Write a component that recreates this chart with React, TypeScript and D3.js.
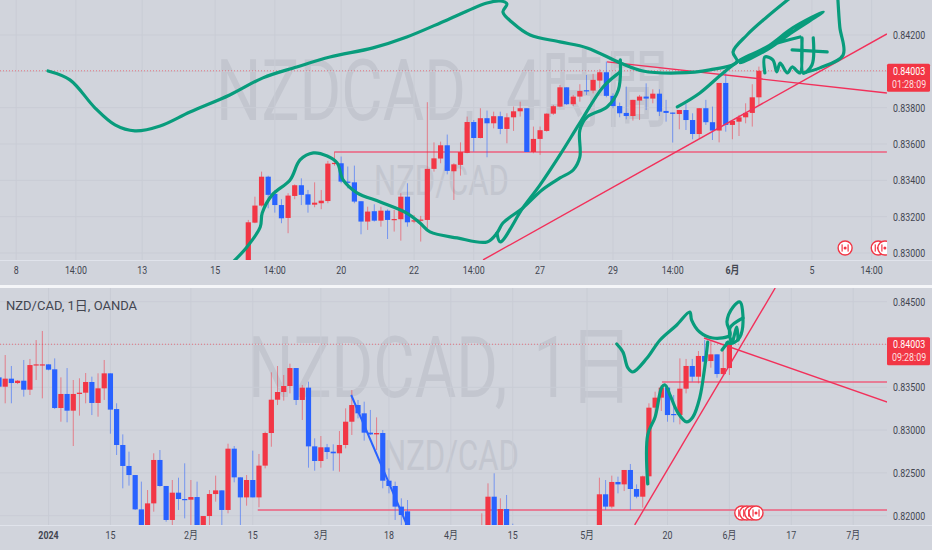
import React from 'react';
import * as d3 from 'd3';

// all prices are in 1e-5 units (0.84003 -> 84003)
const LAST_PRICE = 84003;

// 4h pane
const h4Open = [82925,83167,83261,83420,83325,83264,83193,83314,83373,83323,83266,83274,83286,83492,83494,83393,83389,83285,83173,83230,83178,83233,83184,83186,83310,83173,83178,83182,83463,83520,83593,83450,83485,83551,83721,83633,83742,83714,83753,83683,83747,83780,83797,83556,83628,83672,83767,83806,83912,83819,83861,83896,83894,83949,83995,83865,83809,83771,83754,83839,83861,83850,83877,83782,83773,83765,83787,83732,83655,83797,83720,83674,83936,83705,83723,83747,83771,83857];
const h4High = [83182,83310,83448,83425,83347,83296,83329,83378,83411,83347,83389,83347,83507,83558,83531,83476,83481,83285,83255,83268,83255,83240,83237,83329,83384,83209,83204,83830,83609,83613,83652,83494,83609,83751,83732,83797,83784,83778,83778,83769,83806,83833,83797,83696,83696,83769,83815,83925,83912,83870,83929,83980,83986,84011,84054,83879,83828,83916,83843,83870,83934,83901,83901,83843,83773,83787,83820,83769,83797,83843,83806,83936,83998,83727,83760,83824,83929,84026];
const h4Low = [82907,83164,83255,83246,83222,83164,83109,83296,83264,83222,83252,83241,83274,83481,83384,83356,83274,83103,83127,83173,83145,83077,83118,83068,83145,83164,83063,83136,83448,83494,83433,83292,83426,83549,83558,83631,83527,83686,83654,83604,83672,83751,83556,83549,83540,83668,83760,83802,83815,83809,83833,83870,83879,83907,83857,83797,83747,83736,83729,83732,83787,83824,83754,83723,83608,83681,83677,83626,83631,83705,83622,83609,83668,83626,83644,83714,83696,83815];
const h4Close = [83169,83261,83420,83320,83264,83191,83316,83373,83320,83266,83277,83288,83492,83496,83393,83387,83283,83173,83228,83178,83233,83182,83187,83310,83169,83180,83184,83463,83521,83593,83452,83488,83556,83721,83633,83742,83714,83753,83683,83747,83780,83797,83556,83628,83676,83767,83808,83912,83819,83861,83892,83890,83953,83995,83865,83809,83769,83754,83843,83861,83850,83877,83778,83771,83769,83787,83732,83655,83797,83720,83674,83936,83705,83727,83747,83771,83857,84003];
const h4PriceTicks = [84200, 84000, 83800, 83600, 83400, 83200, 83000];
const h4TimeSlots = [-35, -26, -16, -5, 4, 14, 25, 34, 44, 55, 64, 73, 85, 94];
const h4TimeLabels = ['8', '14:00', '13', '15', '14:00', '20', '22', '14:00', '27', '29', '14:00', '6月', '5', '14:00'];
const h4Events = [90, 95, 96];

// daily pane, slots 67-77 and 84-96 sit below the visible range
const daySlots = [...d3.range(0, 67), ...d3.range(78, 84), ...d3.range(97, 119)];
const dayOpen = [83616,83507,83601,83550,83577,83472,83760,83760,83768,83710,83258,83422,83227,83422,83437,83562,83317,83488,83663,83246,82826,82581,82475,82074,81852,82144,82651,82347,81950,82269,82195,82187,82218,81833,81996,82253,82296,82067,82783,82448,82214,82417,82214,82585,82966,83355,83445,83515,83725,83352,83496,82810,82639,82799,82748,82729,82826,83098,83293,83196,82970,82950,82966,82409,82347,82106,82051,81600,81852,82222,81852,82078,81800,81800,82250,82106,82394,82366,82534,82312,82222,82460,83262,83379,83496,83188,83176,83484,83749,83624,83866,83807,83885,83655,83725];
const dayHigh = [83624,83877,83749,83585,83819,83831,84052,84158,83768,83838,83616,83725,83585,83605,83667,83624,83663,83819,83663,83313,82950,82748,82475,82398,82300,82729,82767,82347,82417,82444,82612,82417,82398,81996,82300,82468,82296,82841,82814,82448,82475,82760,82721,82982,83675,83749,83644,83776,83725,83527,83566,82904,82931,82838,82834,82989,83254,83468,83352,83332,83235,83149,83001,82553,82398,82203,82183,82028,82378,82495,82203,82242,81907,82444,82417,82468,82456,82534,82604,82366,82468,83313,83449,83527,83519,83410,83838,83831,83831,83924,84052,84041,83885,83947,84033];
const dayLow = [83488,83313,83313,83538,83391,83410,83585,83371,83698,83246,83098,83091,82814,83169,83313,83176,83157,83352,82958,82709,82320,82351,82067,81794,81813,82047,82339,81930,81891,82067,81969,81891,81813,81813,81891,82164,81891,82028,82390,81872,82117,82214,82098,82553,82806,83293,83344,83429,83293,83118,82561,82526,82561,82662,82526,82514,82787,82943,83137,82877,82943,82767,82320,82261,81950,81852,81813,81500,81800,81800,81800,81800,81600,81700,82067,82086,82261,82288,82067,82203,82094,82359,83118,83223,83098,83091,83067,83429,83566,83546,83792,83729,83612,83644,83644];
const dayClose = [83507,83601,83550,83577,83472,83760,83768,83768,83706,83258,83422,83227,83422,83437,83562,83317,83488,83663,83239,82826,82581,82475,82074,81813,82144,82651,82347,81950,82269,82195,82187,82218,81852,81996,82253,82296,82067,82783,82448,82214,82417,82214,82585,82966,83355,83445,83515,83725,83352,83496,82810,82639,82799,82744,82729,82826,83098,83293,83196,82970,82950,82966,82409,82347,82106,82008,81852,81800,82222,81852,82078,81852,81700,82250,82106,82394,82366,82534,82312,82222,82460,83262,83379,83496,83176,83176,83484,83749,83624,83866,83799,83885,83655,83725,84003];
const dayPriceTicks = [84500, 84000, 83500, 83000, 82500, 82000];
const dayTimeSlots = [8, 18, 31, 41, 52, 63, 73, 83, 95, 108, 118, 128, 138];
const dayTimeLabels = ['2024', '15', '2月', '15', '3月', '18', '4月', '15', '5月', '20', '6月', '17', '7月'];
const dayEvents = [120, 120.8, 121.6, 122.3];

// drawings on the charts, anchored as [slot, price]
type Pt = [number, number];
const h4Sweep: Pt[] = [[-30.2,84002],[-26.9,83953],[-23.1,83798],[-20.1,83705],[-17.1,83672],[-13.3,83699],[-8.8,83776],[-2.8,83870],[2.2,83964],[7.3,84024],[12.3,84079],[18.8,84129],[23.9,84189],[30,84283],[36,84376],[38,84387],[39,84371],[38.4,84327],[39.9,84266],[42.5,84200],[47,84162],[51.1,84129],[56.1,84046],[59.5,84002],[64.7,83991],[69.6,84008],[73.7,84052],[73.1,84107],[75.2,84200],[78.2,84299],[81.7,84404]];
const h4Lower: Pt[] = [[-2.3,82951],[-0.2,83033],[1.8,83143],[2.1,83220],[3.6,83320],[6.3,83402],[7.8,83512],[9.8,83551],[11.9,83534],[13.4,83496],[14.3,83402],[16.4,83331],[19.9,83281],[23.9,83220],[25.9,83165],[27.4,83116],[31.5,83083],[36,83061],[37.5,83110],[38.4,83165],[41.4,83248],[44.3,83347],[47,83413],[49,83457],[50,83529],[50,83677],[51.1,83749],[54.1,83804],[55.8,83897],[56.1,84063]];
const h4Rise: Pt[] = [[37.5,83110],[38,83061],[41.4,83248],[44,83375],[47,83540],[50,83716],[53.5,83914],[56.1,83997]];
const h4Arrow: Pt[] = [[64.7,83804],[68.1,83881],[71.6,83991],[74.2,84063],[78.2,84134],[82.1,84239],[86.7,84327],[82.1,84217],[78.2,84118],[74.2,84046],[78.2,84134],[83.2,84189]];
const h4Scribble: Pt[] = [[77.9,83991],[77.9,84079],[79.1,84063],[79.7,83997],[80.2,84046],[81.3,83991],[82,84024],[83.2,83991],[83.5,84184],[83.7,83991],[85,84035],[85.2,84184]];
const h4Hook: Pt[] = [[83.7,83991],[86.2,84019],[89.7,84090],[89.2,84244],[88.9,84404]];
const h4Cross: Pt[] = [[82,84118],[87.3,84107]];
const h4Green = [h4Sweep, h4Lower, h4Rise, h4Arrow, h4Scribble, h4Hook, h4Cross];

const dayCurve: Pt[] = [[99.8,84006],[100.8,83912],[101.6,83726],[102.4,83679],[104.7,83842],[106.8,84053],[109.5,84228],[111.6,84380],[111.9,84286],[113.2,84146],[115.3,84076],[118.1,84111],[117.6,84263],[118.6,84438],[119.7,84496],[120.2,84263],[119.7,84088],[118.6,84018],[117.6,84018]];
const dayLoop: Pt[] = [[120.2,84310],[118.1,84193],[118.4,84018],[119.2,84204],[119.4,84053]];
const dayDip: Pt[] = [[104.8,82371],[104.8,82943],[106,83153],[107.1,83504],[107.6,83527],[108.4,83410],[109.7,83200],[111.1,83095],[112.1,83153],[113.2,83375],[114,83726],[114.5,84029]];
const dayTick: Pt[] = [[116.8,83936],[117.8,84029]];
const dayGreen = [dayCurve, dayLoop, dayDip, dayTick];
const dayBlueLine: Pt[] = [[56.9,83410],[65.9,81892]];

const h4Trend: Pt[][] = [[[35.4,82962],[96.3,84206]], [[54.1,84052],[96.3,83881]]];
const h4Levels: Pt[][] = [[[13,83556],[96.3,83556]]];
const dayTrend: Pt[][] = [[[102.7,81892],[125.4,84660]], [[113.9,84076],[143.5,83328]]];
const dayLevels: Pt[][] = [[[107.1,83562],[143.5,83562]], [[41.8,82067],[143.5,82067]]];

const W = 932;
const H = 550;
const PLOT_R = 887;
const UP = '#f23645';
const DOWN = '#2962ff';
const GREEN = '#089c7c';
const TREND = '#f2305a';
const LEVEL = '#ec5f7e';
const BG = '#d1d4dc';
const GRID = '#c9ccd5';
const TEXT = '#434651';
const WM = '#c3c6cf';
const FONT = 'Roboto, "Noto Sans CJK JP", sans-serif';
// the source screenshot is squeezed sideways, so its text is narrow
const SQUEEZE = 0.77;

const fmt = (v: number) => (v / 1e5).toFixed(5);

const squeeze = (x: number, y: number, s = SQUEEZE) => `translate(${x},${y}) scale(${s},1)`;

interface PaneProps {
  id: string;
  top: number;
  bottom: number;
  x: d3.ScaleLinear<number, number>;
  y: d3.ScaleLinear<number, number>;
  slots: number[];
  open: number[];
  high: number[];
  low: number[];
  close: number[];
  priceTicks: number[];
  timeSlots: number[];
  timeLabels: string[];
  boldLabel: string;
  events: number[];
  eventY: number;
  trend: Pt[][];
  levels: Pt[][];
  green: Pt[][];
  title: string;
  titleX: number;
  titleY: number;
  titleGap: number;
  subX: number;
  subY: number;
  countdown: string;
  children?: React.ReactNode;
}

const Pane: React.FC<PaneProps> = (p) => {
  const { x, y } = p;
  const straight = d3.line<Pt>().x((d) => x(d[0])).y((d) => y(d[1]));
  const freehand = d3.line<Pt>().x((d) => x(d[0])).y((d) => y(d[1])).curve(d3.curveCatmullRom.alpha(0.5));
  const lastY = y(LAST_PRICE);

  return (
    <g>
      <clipPath id={p.id}>
        <rect x={0} y={p.top} width={PLOT_R} height={p.bottom - p.top} />
      </clipPath>

      <text transform={squeeze(p.titleX, p.titleY, 0.74)} fontSize={86} wordSpacing={p.titleGap} fill={WM} fontFamily={FONT}>{p.title}</text>
      <text transform={squeeze(p.subX, p.subY, 0.74)} fontSize={42} fill={WM} fontFamily={FONT}>NZD/CAD</text>

      {p.priceTicks.map((t) => (
        <line key={t} x1={0} x2={PLOT_R} y1={y(t)} y2={y(t)} stroke={GRID} strokeWidth={1} />
      ))}
      {p.timeSlots.map((s) => (
        <line key={s} x1={x(s)} x2={x(s)} y1={p.top} y2={p.bottom} stroke={GRID} strokeWidth={1} />
      ))}

      <g clipPath={`url(#${p.id})`}>
        <line x1={0} x2={PLOT_R} y1={lastY} y2={lastY} stroke={UP} strokeOpacity={0.6} strokeDasharray="1 2" />
        {p.levels.map((d, i) => (
          <path key={i} d={straight(d) ?? ''} stroke={LEVEL} strokeWidth={1.6} fill="none" />
        ))}
        {p.slots.map((s, i) => {
          const up = p.close[i] >= p.open[i];
          const c = up ? UP : DOWN;
          const bodyTop = y(Math.max(p.open[i], p.close[i]));
          const bodyH = Math.max(1.2, Math.abs(y(p.open[i]) - y(p.close[i])));
          return (
            <g key={s}>
              <line x1={x(s)} x2={x(s)} y1={y(p.high[i])} y2={y(p.low[i])} stroke={c} strokeOpacity={0.55} strokeWidth={1} />
              <rect x={x(s) - 2.6} y={bodyTop} width={5.2} height={bodyH} fill={c} />
            </g>
          );
        })}
        {p.trend.map((d, i) => (
          <path key={i} d={straight(d) ?? ''} stroke={TREND} strokeWidth={1.4} fill="none" />
        ))}
        {p.events.map((s, i) => (
          <g key={i} transform={`translate(${x(s)},${p.eventY})`}>
            <circle r={7} fill="#fff" stroke={UP} strokeWidth={1.4} />
            <rect x={-3.6} y={-3.6} width={1.2} height={7.2} fill={UP} />
            <rect x={2.4} y={-3.6} width={1.2} height={7.2} fill={UP} />
            <circle r={1.5} fill={UP} />
          </g>
        ))}
        {p.children}
        {p.green.map((d, i) => (
          <path key={i} d={freehand(d) ?? ''} stroke={GREEN} strokeWidth={3.2} fill="none" strokeLinecap="round" strokeLinejoin="round" />
        ))}
      </g>

      {/* the tick next to the last price is hidden by its tag */}
      {p.priceTicks.filter((t) => Math.abs(y(t) - lastY) > 14).map((t) => (
        <text key={t} transform={squeeze(893, y(t) + 4)} fontSize={11.5} fill={TEXT} fontFamily={FONT}>{fmt(t)}</text>
      ))}
      {p.timeSlots.map((s, i) => (
        <text
          key={s}
          transform={squeeze(x(s), p.bottom + 14)}
          fontSize={11.5}
          textAnchor="middle"
          fill={TEXT}
          fontWeight={p.timeLabels[i] === p.boldLabel ? 700 : 400}
          fontFamily={FONT}
        >
          {p.timeLabels[i]}
        </text>
      ))}

      <rect x={PLOT_R} y={lastY - 7} width={43} height={28} rx={1.5} fill={UP} />
      <text transform={squeeze(893, lastY + 4)} fontSize={11.5} fill="#fff" fontFamily={FONT}>{fmt(LAST_PRICE)}</text>
      <text transform={squeeze(892, lastY + 17)} fontSize={11.5} fill="#fff" fillOpacity={0.85} fontFamily={FONT}>{p.countdown}</text>
    </g>
  );
};

const App: React.FC = () => {
  const h4X = d3.scaleLinear().domain([0, 77]).range([248.3, 758.9]);
  const h4Y = d3.scaleLinear().domain([84200, 83000]).range([35, 253]);
  const dayX = d3.scaleLinear().domain([0, 118]).range([-1, 729.4]);
  const dayY = d3.scaleLinear().domain([84500, 82000]).range([301.7, 515.7]);
  const blueLine = d3.line<Pt>().x((d) => dayX(d[0])).y((d) => dayY(d[1]));

  return (
    <div style={{ position: 'fixed', left: 0, top: 0, width: W, height: H }}>
      <svg width={W} height={H} style={{ display: 'block' }}>
        <rect width={W} height={H} fill={BG} />

        <Pane
          id="h4-clip" top={0} bottom={260} x={h4X} y={h4Y}
          slots={d3.range(h4Open.length)} open={h4Open} high={h4High} low={h4Low} close={h4Close}
          priceTicks={h4PriceTicks} timeSlots={h4TimeSlots} timeLabels={h4TimeLabels} boldLabel="6月"
          events={h4Events} eventY={248} trend={h4Trend} levels={h4Levels} green={h4Green}
          title="NZDCAD, 4時間" titleX={216} titleY={120} titleGap={20}
          subX={374} subY={195} countdown="01:28:09"
        />
        <line x1={0} x2={W} y1={260.5} y2={260.5} stroke="#e0e3eb" />
        <rect x={0} y={285} width={W} height={3} fill="#f4f5f8" />

        <Pane
          id="day-clip" top={288} bottom={525} x={dayX} y={dayY}
          slots={daySlots} open={dayOpen} high={dayHigh} low={dayLow} close={dayClose}
          priceTicks={dayPriceTicks} timeSlots={dayTimeSlots} timeLabels={dayTimeLabels} boldLabel="2024"
          events={dayEvents} eventY={513} trend={dayTrend} levels={dayLevels} green={dayGreen}
          title="NZDCAD, 1日" titleX={248} titleY={397} titleGap={14}
          subX={384} subY={470} countdown="09:28:09"
        >
          <path d={blueLine(dayBlueLine) ?? ''} stroke={DOWN} strokeWidth={2} fill="none" />
        </Pane>
        <line x1={0} x2={W} y1={525.5} y2={525.5} stroke="#e0e3eb" />

        <text x={6} y={310} fontSize={13} fill={TEXT} fontFamily={FONT}>NZD/CAD, 1日, OANDA</text>
      </svg>
    </div>
  );
};

export default App;
